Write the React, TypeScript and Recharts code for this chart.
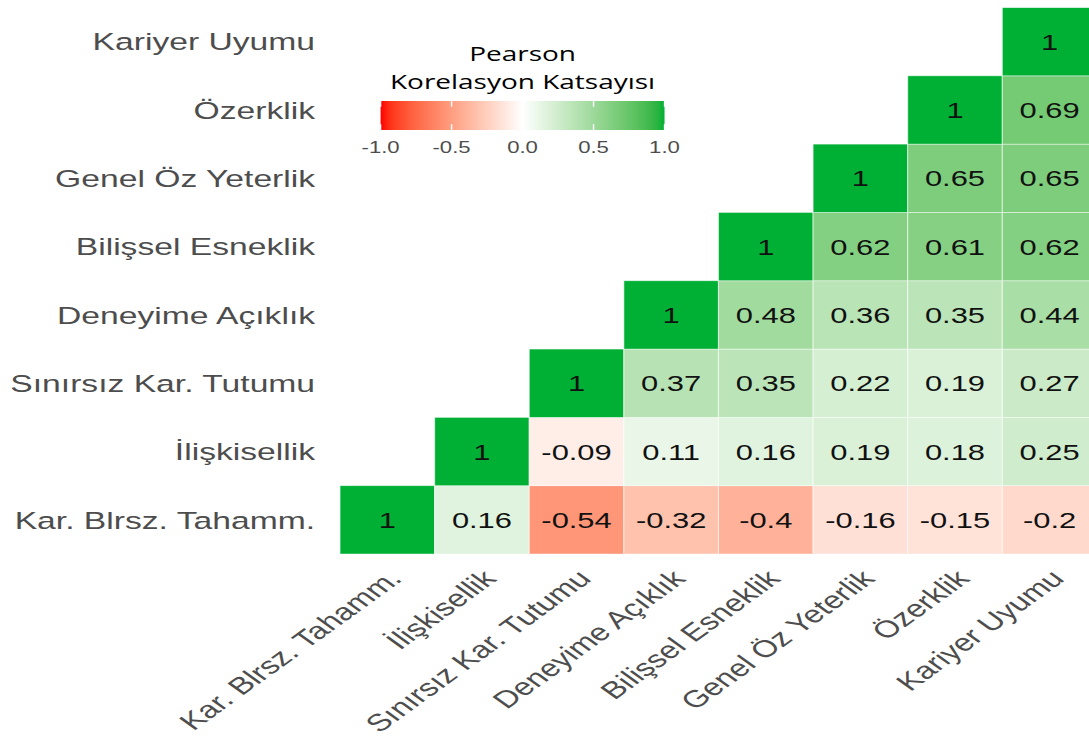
import React from 'react';
import { ScatterChart, Scatter, XAxis, YAxis, Customized } from 'recharts';

const variables = [
  'Kar. Blrsz. Tahamm.',
  'İlişkisellik',
  'Sınırsız Kar. Tutumu',
  'Deneyime Açıklık',
  'Bilişsel Esneklik',
  'Genel Öz Yeterlik',
  'Özerklik',
  'Kariyer Uyumu',
];

// each row: correlation of variables[i] with variables[i], variables[i+1], ...
const rowKarBlrsz = [1, 0.16, -0.54, -0.32, -0.4, -0.16, -0.15, -0.2];
const rowIliskisellik = [1, -0.09, 0.11, 0.16, 0.19, 0.18, 0.25];
const rowSinirsiz = [1, 0.37, 0.35, 0.22, 0.19, 0.27];
const rowDeneyime = [1, 0.48, 0.36, 0.35, 0.44];
const rowBilissel = [1, 0.62, 0.61, 0.62];
const rowGenelOz = [1, 0.65, 0.65];
const rowOzerklik = [1, 0.69];
const rowKariyer = [1];

const corrRows = [rowKarBlrsz, rowIliskisellik, rowSinirsiz, rowDeneyime, rowBilissel, rowGenelOz, rowOzerklik, rowKariyer];

const legendTicks = [-1, -0.5, 0, 0.5, 1];
const legendTitle = ['Pearson', 'Korelasyon Katsayısı'];

const cells = corrRows.flatMap((row, r) =>
  row.map((value, k) => ({ x: r + k, y: r, value }))
);

const LOW = '#ff0000';
const MID = '#ffffff';
const HIGH = '#00b034';

// colour interpolation in CIELAB, like ggplot's gradient2
const toLin = (c: number) => (c <= 0.04045 ? c / 12.92 : Math.pow((c + 0.055) / 1.055, 2.4));
const toSrgb = (c: number) => (c <= 0.0031308 ? 12.92 * c : 1.055 * Math.pow(c, 1 / 2.4) - 0.055);
const f = (t: number) => (t > 216 / 24389 ? Math.cbrt(t) : (t * 24389 / 27 + 16) / 116);
const finv = (t: number) => (t * t * t > 216 / 24389 ? t * t * t : (116 * t - 16) * 27 / 24389);

function hexToLab(hex: string) {
  const n = parseInt(hex.slice(1), 16);
  const r = toLin(((n >> 16) & 255) / 255);
  const g = toLin(((n >> 8) & 255) / 255);
  const b = toLin((n & 255) / 255);
  const X = (0.4124 * r + 0.3576 * g + 0.1805 * b) / 0.95047;
  const Y = 0.2126 * r + 0.7152 * g + 0.0722 * b;
  const Z = (0.0193 * r + 0.1192 * g + 0.9505 * b) / 1.08883;
  return [116 * f(Y) - 16, 500 * (f(X) - f(Y)), 200 * (f(Y) - f(Z))];
}

function labToHex([L, a, bb]: number[]) {
  const fy = (L + 16) / 116;
  const X = 0.95047 * finv(fy + a / 500);
  const Y = finv(fy);
  const Z = 1.08883 * finv(fy - bb / 200);
  const rgb = [
    3.2406 * X - 1.5372 * Y - 0.4986 * Z,
    -0.9689 * X + 1.8758 * Y + 0.0415 * Z,
    0.0557 * X - 0.204 * Y + 1.057 * Z,
  ].map((c) => Math.round(Math.min(1, Math.max(0, toSrgb(c))) * 255));
  return '#' + rgb.map((c) => c.toString(16).padStart(2, '0')).join('');
}

const labLow = hexToLab(LOW);
const labMid = hexToLab(MID);
const labHigh = hexToLab(HIGH);

function corrColor(v: number) {
  const end = v < 0 ? labLow : labHigh;
  const t = Math.min(1, Math.abs(v));
  return labToHex(labMid.map((m, i) => m + (end[i] - m) * t));
}

const W = 794;
const H = 740;
const MARGIN = { top: 7.5, right: 2, left: 0, bottom: 0 };
const Y_AXIS_W = 245.5;
const X_AXIS_H = 186;
const plotW = W - MARGIN.left - MARGIN.right - Y_AXIS_W;
const plotH = H - MARGIN.top - MARGIN.bottom - X_AXIS_H;
const cellW = plotW / variables.length;
const cellH = plotH / variables.length;
const FONT = '"Liberation Sans", Arial, sans-serif';

const HeatCell = (props: any) => {
  const { cx, cy, payload } = props;
  return (
    <g>
      <rect
        x={cx - cellW / 2}
        y={cy - cellH / 2}
        width={cellW}
        height={cellH}
        fill={corrColor(payload.value)}
        stroke="#ffffff"
        strokeOpacity={0.55}
        strokeWidth={0.8}
      />
      <text x={cx} y={cy} dy="0.36em" textAnchor="middle" fontSize={22.3} fontFamily={FONT} fill="#111">
        {String(payload.value)}
      </text>
    </g>
  );
};

const XTick = (props: any) => {
  const { x, y, payload } = props;
  const bx = x + 11.5;
  const by = y + 26;
  return (
    <text x={bx} y={by} transform={`rotate(-45, ${bx}, ${by})`} textAnchor="end" fontSize={24} fontFamily={FONT} fill="#4d4d4d">
      {variables[payload.value]}
    </text>
  );
};

const YTick = (props: any) => {
  const { x, y, payload } = props;
  return (
    <text x={x} y={y} dy="0.36em" textAnchor="end" fontSize={24.3} fontFamily={FONT} fill="#4d4d4d">
      {variables[payload.value]}
    </text>
  );
};

const ColorLegend = () => {
  const barX = 274.8;
  const barY = 101;
  const barW = 205;
  const barH = 29;
  const cx = barX + barW / 2;
  const stops = Array.from({ length: 41 }, (_, i) => -1 + i * 0.05);
  return (
    <g>
      <defs>
        <linearGradient id="corrGrad" x1="0" x2="1" y1="0" y2="0">
          {stops.map((s) => (
            <stop key={s} offset={(s + 1) / 2} stopColor={corrColor(s)} />
          ))}
        </linearGradient>
      </defs>
      <text x={cx} y={61.5} textAnchor="middle" fontSize={20.2} fontFamily='"Open Sans", sans-serif' fill="#000">
        {legendTitle[0]}
      </text>
      <text x={cx} y={89} textAnchor="middle" fontSize={20.2} fontFamily='"Open Sans", sans-serif' fill="#000">
        {legendTitle[1]}
      </text>
      <rect x={barX} y={barY} width={barW} height={barH} fill="url(#corrGrad)" />
      {legendTicks.map((t) => {
        const tx = barX + ((t + 1) / 2) * barW;
        return (
          <g key={t}>
            <line x1={tx} x2={tx} y1={barY} y2={barY + barH / 5} stroke="#fff" strokeWidth={1} />
            <line x1={tx} x2={tx} y1={barY + barH * 0.8} y2={barY + barH} stroke="#fff" strokeWidth={1} />
            <text x={tx} y={153} textAnchor="middle" fontSize={16} fontFamily={FONT} fill="#4d4d4d">
              {t.toFixed(1)}
            </text>
          </g>
        );
      })}
    </g>
  );
};

const indexTicks = variables.map((_, i) => i);

export default function App() {
  return (
    <div style={{ position: 'absolute', left: 0, top: 0, width: 1089, height: 740, overflow: 'hidden', background: '#fff' }}>
      <div style={{ width: W, height: H, transform: 'scaleX(1.385)', transformOrigin: '0 0' }}>
        <ScatterChart width={W} height={H} margin={MARGIN}>
          <XAxis
            type="number"
            dataKey="x"
            domain={[-0.5, 7.5]}
            ticks={indexTicks}
            allowDataOverflow
            interval={0}
            axisLine={false}
            tickLine={false}
            tickSize={0}
            tickMargin={0}
            height={X_AXIS_H}
            tick={<XTick />}
          />
          <YAxis
            type="number"
            dataKey="y"
            domain={[-0.5, 7.5]}
            ticks={indexTicks}
            allowDataOverflow
            interval={0}
            axisLine={false}
            tickLine={false}
            tickSize={0}
            tickMargin={18}
            width={Y_AXIS_W}
            tick={<YTick />}
          />
          <Scatter data={cells} shape={<HeatCell />} isAnimationActive={false} />
          <Customized component={<ColorLegend />} />
        </ScatterChart>
      </div>
    </div>
  );
}
